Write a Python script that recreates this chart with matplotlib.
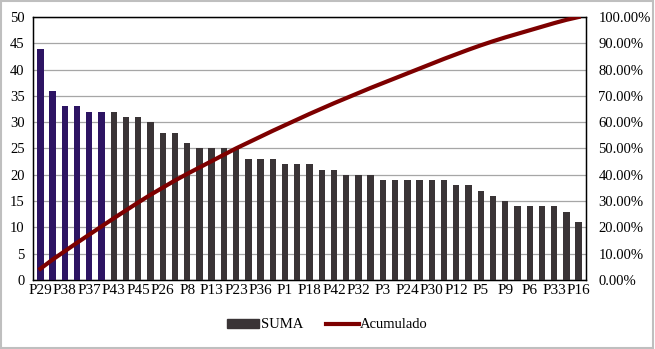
import numpy as np
import matplotlib
matplotlib.use("Agg")
import matplotlib.pyplot as plt
from matplotlib.patches import Rectangle, Patch
from matplotlib.lines import Line2D
from matplotlib.ticker import FuncFormatter

plt.rcParams['font.family'] = ['Liberation Serif', 'DejaVu Serif']

# Values (45 bars, only every second label is shown)
shown_labels = ['P29', 'P38', 'P37', 'P43', 'P45', 'P26', 'P8', 'P13', 'P23', 'P36', 'P1',
                'P18', 'P42', 'P32', 'P3', 'P24', 'P30', 'P12', 'P5', 'P9', 'P6', 'P33', 'P16']
suma = [44, 36, 33, 33, 32, 32, 32, 31, 31, 30, 28, 28, 26, 25, 25, 25, 25,
        23, 23, 23, 22, 22, 22, 21, 21, 20, 20, 20, 19, 19, 19, 19, 19, 19,
        18, 18, 17, 16, 15, 14, 14, 14, 14, 13, 11]
n_highlight = 6

suma = np.array(suma)
acumulado = np.cumsum(suma) / suma.sum()
x = np.arange(len(suma))

fig = plt.figure(figsize=(6.55, 3.49), dpi=100)
ax = fig.add_axes([33 / 655, 1 - 280 / 349, (586 - 33) / 655, (280 - 17) / 349])

colors = ['#2d1463' if i < n_highlight else '#3a3436' for i in x]
ax.bar(x, suma, width=0.52, color=colors, zorder=3)
ax.set_xlim(-0.6, len(suma) - 0.4)
ax.set_ylim(0, 50)
ax.set_yticks(np.arange(0, 51, 5))
ax.yaxis.grid(True, color='#a6a6a6', linewidth=0.9, zorder=0)
ax.set_xticks(x[::2])
ax.set_xticklabels(shown_labels)
ax.tick_params(axis='x', length=0, labelsize=11, pad=3)
ax.tick_params(axis='y', length=0, labelsize=10.5, pad=6)
for s in ax.spines.values():
    s.set_color('black')
    s.set_linewidth(1.0)

ax2 = ax.twinx()
ax2.plot(x, acumulado, color='#7d0000', linewidth=3, zorder=4)
ax2.set_ylim(0, 1)
ax2.set_yticks(np.arange(0, 1.01, 0.1))
ax2.yaxis.set_major_formatter(FuncFormatter(lambda v, p: f"{v * 100:.2f}%"))
ax2.tick_params(length=0, labelsize=10.5, pad=9)

handles = [Patch(color='#3a3436'), Line2D([], [], color='#7d0000', linewidth=3)]
fig.legend(handles, ['SUMA', 'Acumulado'], loc='center', bbox_to_anchor=(0.5, 1 - 325 / 349),
           ncol=2, frameon=False, fontsize=10.5, handlelength=2.2, handletextpad=0.1,
           columnspacing=1.6, handleheight=0.55)

fig.patches.append(Rectangle((0.002, 0.003), 0.995, 0.994, transform=fig.transFigure,
                             fill=False, edgecolor='#bfbfbf', linewidth=1.5))

fig.savefig('out.png', dpi=100)
